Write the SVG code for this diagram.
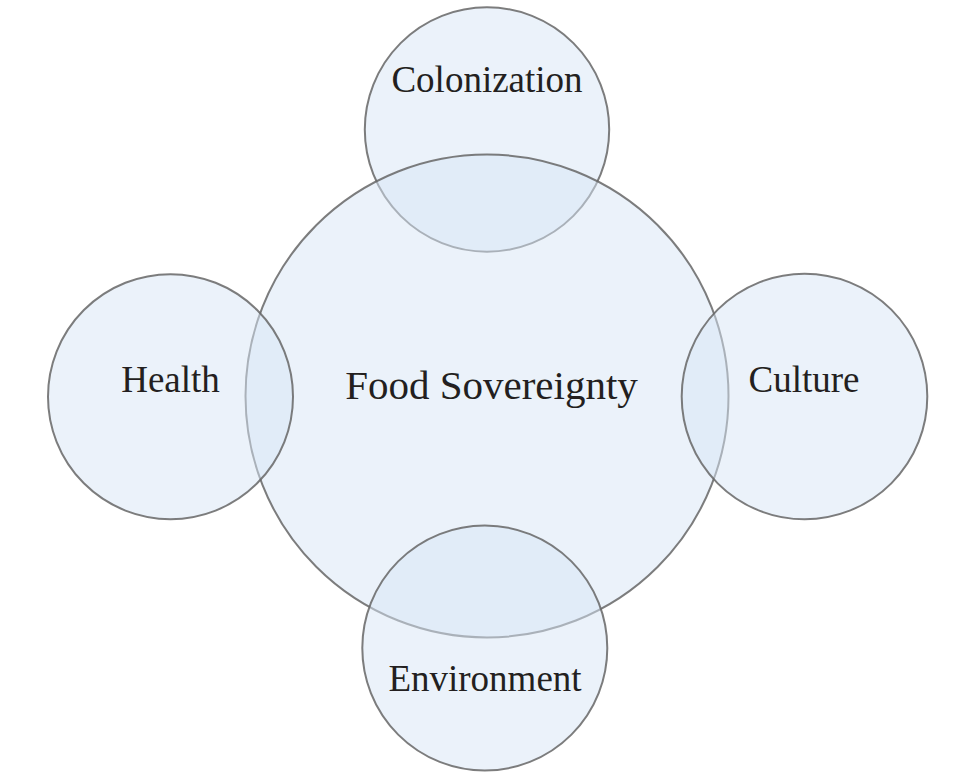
<svg xmlns="http://www.w3.org/2000/svg" width="954" height="774" viewBox="0 0 954 774">
  <style>
    .disc { fill: #d7e5f5; fill-opacity: 0.5; stroke: #666666; stroke-opacity: 0.85; stroke-width: 2; }
    .label { font-family: "Liberation Serif", "Times New Roman", serif; font-size: 37px; fill: #231f20; text-anchor: middle; }
    .title { font-size: 41px; }
  </style>
  <rect width="954" height="774" fill="#ffffff"/>
  <g id="colonization">
    <circle class="disc" cx="487" cy="129.5" r="122.2"/>
    <text class="label" x="487" y="92">Colonization</text>
  </g>
  <g id="food-sovereignty">
    <circle class="disc" cx="487" cy="396" r="241.5"/>
    <text class="label title" x="491.5" y="399">Food Sovereignty</text>
  </g>
  <g id="health">
    <circle class="disc" cx="170.5" cy="396.7" r="122.5"/>
    <text class="label" x="170.5" y="392">Health</text>
  </g>
  <g id="environment">
    <circle class="disc" cx="484.8" cy="648" r="122.5"/>
    <text class="label" x="485" y="691">Environment</text>
  </g>
  <g id="culture">
    <circle class="disc" cx="804.5" cy="396.5" r="122.8"/>
    <text class="label" x="804" y="392">Culture</text>
  </g>
  <g id="connectors"/>
</svg>
